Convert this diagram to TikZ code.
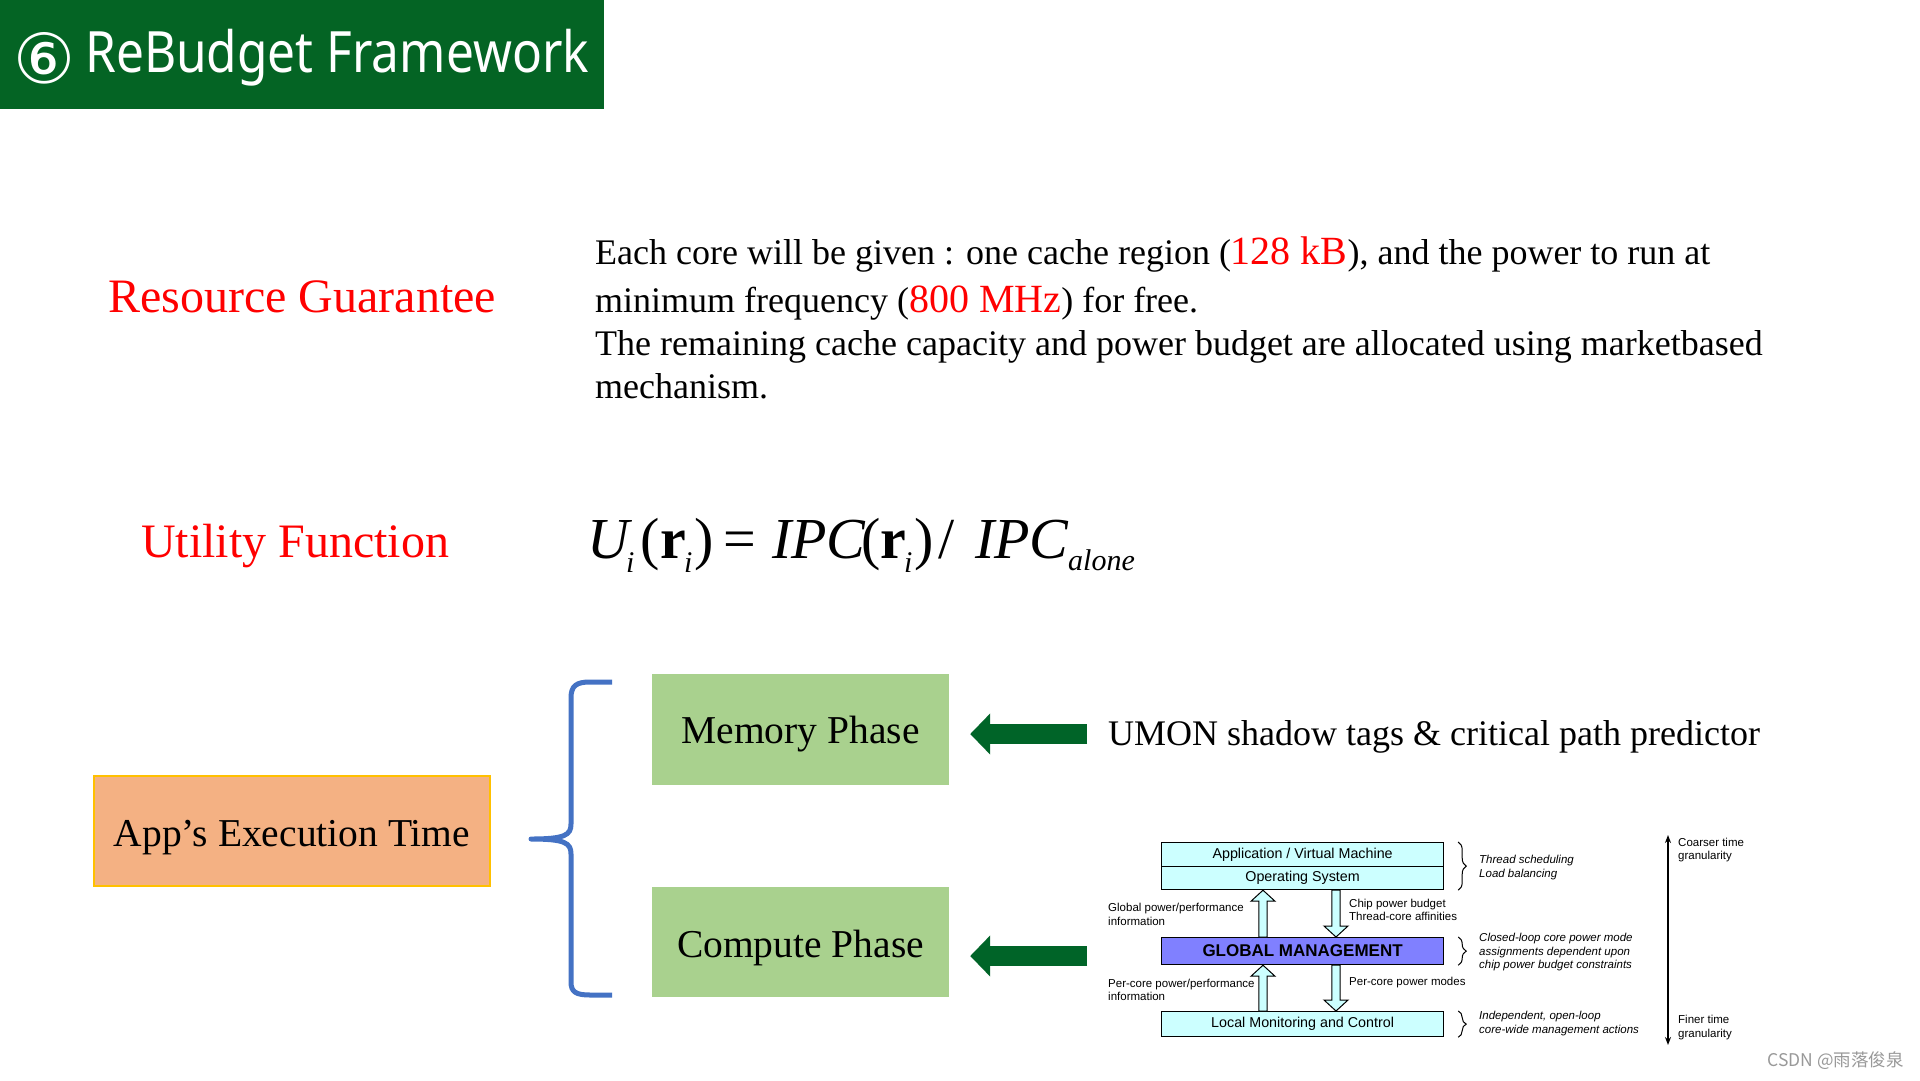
\documentclass[tikz,border=0pt]{standalone}
\usepackage{fontspec}
\setmainfont{Liberation Serif}
\newfontfamily\arialf{Liberation Sans}
\newfontfamily\titlef{Noto Sans}
\newfontfamily\dejavu{DejaVu Sans}
\newfontfamily\cjkf{Noto Sans CJK SC}
\usetikzlibrary{arrows.meta,decorations.pathreplacing,calc}
\definecolor{titlegreen}{RGB}{4,100,36}
\definecolor{arrgreen}{RGB}{0,100,40}
\definecolor{phasegreen}{RGB}{169,209,142}
\definecolor{apporange}{RGB}{244,177,131}
\definecolor{appborder}{RGB}{255,192,0}
\definecolor{braceblue}{RGB}{68,114,196}
\definecolor{lcyan}{RGB}{204,255,255}
\definecolor{gmblue}{RGB}{128,128,255}
\newcommand{\fs}[1]{\fontsize{#1}{#1}\selectfont}
\newcommand{\putat}[2]{\rlap{\hspace*{#1}#2}}
\newcommand{\blockarr}[2]{%
  \draw[barrow] let \p1=#1, \p2=#2, \n1={ifthenelse(\y2>\y1,1,-1)} in
    ({\x1-4.2pt},\y1) -- ({\x1-4.2pt},{\y2-(\n1)*11pt}) -- ({\x1-12pt},{\y2-(\n1)*11pt})
    -- (\x1,\y2) -- ({\x1+12pt},{\y2-(\n1)*11pt}) -- ({\x1+4.2pt},{\y2-(\n1)*11pt})
    -- ({\x1+4.2pt},\y1) -- cycle;}
\begin{document}
\begin{tikzpicture}[x=1pt,y=-1pt,
  redlbl/.style={anchor=base west, text=red, inner sep=0, font=\fs{48}},
  para/.style={anchor=base west, inner sep=0, font=\fs{36}},
  phase/.style={fill=phasegreen, minimum width=297, inner sep=0},
  phasetxt/.style={anchor=base, inner sep=0, font=\fs{39.5}},
  garrow/.style={draw=arrgreen, line width=20pt, -{Triangle[length=20pt,width=40pt]}},
  cbox/.style={draw=black, line width=1.2pt, fill=lcyan, minimum width=282, inner sep=0, font=\arialf\fs{14.3}},
  barrow/.style={draw=black, fill=lcyan, line width=1pt, line join=miter},
  lbl/.style={font=\arialf\fontsize{11.5}{13.5}\selectfont, align=left, inner sep=0, anchor=west},
  ilbl/.style={lbl, font=\arialf\itshape\fontsize{11.5}{13.5}\selectfont},
  bracedeco/.style={draw=black, line width=1pt, decorate, decoration={brace, amplitude=8pt}},
]
\useasboundingbox (0,0) rectangle (1920,1080);
\fill[white] (0,0) rectangle (1920,1080);

% title
\node[fill=titlegreen, minimum width=604, minimum height=109, anchor=north west, inner sep=0] (titlebar) at (0,0) {};
\node[anchor=center, text=white, inner sep=0] (six) at (44,58) {\resizebox{62pt}{!}{\dejavu ⑥}};
\node[anchor=base west, text=white, inner sep=0] (title) at (85,72) {\scalebox{0.87}[1]{\titlef\fs{57}ReBudget Framework}};

% resource guarantee
\node[redlbl] (rg) at (108,312) {Resource Guarantee};
\node[para] (p1) at (595,264) {Each core will be given : one cache region ({\color{red}\fs{40}128 kB}), and the power to run at};
\node[para] (p2) at (595,312) {minimum frequency ({\color{red}\fs{40}800 MHz}) for free.};
\node[para] (p3) at (595,355) {The remaining cache capacity and power budget are allocated using marketbased};
\node[para] (p4) at (595,398) {mechanism.};

% utility function
\node[redlbl] (uf) at (141,557) {Utility Function};
\node[anchor=base west, inner sep=0, font=\fs{58}] (formula) at (587,558) {%
\putat{0pt}{\textit{U}}%
\putat{39pt}{\raisebox{-14pt}{\fs{30}\textit{i}}}%
\putat{53pt}{(}%
\putat{73pt}{\textbf{r}}%
\putat{97pt}{\raisebox{-14pt}{\fs{30}\textit{i}}}%
\putat{107pt}{)}%
\putat{136pt}{=}%
\putat{185pt}{\textit{IPC}}%
\putat{274pt}{(}%
\putat{293pt}{\textbf{r}}%
\putat{317pt}{\raisebox{-14pt}{\fs{30}\textit{i}}}%
\putat{327pt}{)}%
\putat{351pt}{/}%
\putat{388pt}{\textit{IPC}}%
\putat{481pt}{\raisebox{-12pt}{\fs{30}\textit{alone}}}%
\hspace*{552pt}};

% app execution time
\node[draw=appborder, line width=2pt, fill=apporange, minimum width=396, minimum height=110, inner sep=0] (app) at (292,831) {};
\node[anchor=base, inner sep=0, font=\fs{39.5}] (apptext) at (292,846) {App’s Execution Time};

% brace
\coordinate (btip) at (531,839);
\draw[draw=braceblue, line width=5pt, line join=round, line cap=butt]
  (612,682) -- (590,682) .. controls (576,682) and (571,686) .. (571,698)
  -- (571,824) .. controls (571,835) and (565,839) .. (btip)
  .. controls (565,839) and (571,843) .. (571,854)
  -- (571,982) .. controls (571,992) and (576,995) .. (590,995) -- (612,995);

% phases
\node[phase, minimum height=111] (mem) at (800.5,729.5) {};
\node[phasetxt] (memtxt) at (800.5,743) {Memory Phase};
\node[phase, minimum height=110] (comp) at (800.5,942) {};
\node[phasetxt] (comptxt) at (800.5,957) {Compute Phase};

% green arrows
\coordinate (g1) at (1087,734);
\coordinate (g2) at (1087,956);
\draw[garrow, shorten >=21pt] (g1) -- (mem.east |- g1);
\draw[garrow, shorten >=21pt] (g2) -- (comp.east |- g2);
\node[anchor=base west, inner sep=0, font=\fs{36}] (umon) at (1108,745) {UMON shadow tags \& critical path predictor};

% bottom-right diagram
\node[cbox, minimum height=24, anchor=north west] (appvm) at (1161,842) {Application / Virtual Machine};
\node[cbox, minimum height=23, anchor=north west] (os) at (1161,866) {Operating System};
\node[cbox, fill=gmblue, minimum height=27, anchor=north west, font=\arialf\bfseries\fs{17}] (gm) at (1161,937) {GLOBAL MANAGEMENT};
\node[cbox, minimum height=25, anchor=north west] (local) at (1161,1011) {Local Monitoring and Control};

\coordinate (ax1) at (1263,900);
\coordinate (ax2) at (1336,900);
\blockarr{(gm.north -| ax1)}{(os.south -| ax1)}
\blockarr{(os.south -| ax2)}{(gm.north -| ax2)}
\blockarr{(local.north -| ax1)}{(gm.south -| ax1)}
\blockarr{(gm.south -| ax2)}{(local.north -| ax2)}

\node[lbl] (glob) at (1108,914.5) {Global power/performance\\information};
\node[lbl] (chip) at (1349,910) {Chip power budget\\Thread-core affinities};
\node[lbl] (perc) at (1108,990) {Per-core power/performance\\information};
\node[lbl] (perm) at (1349,983) {Per-core power modes};

\draw[bracedeco] ([xshift=14pt]appvm.north east) -- ([xshift=14pt]os.south east);
\draw[bracedeco] ([xshift=14pt]gm.north east) -- ([xshift=14pt]gm.south east);
\draw[bracedeco] ([xshift=14pt]local.north east) -- ([xshift=14pt]local.south east);

\node[ilbl] (ts) at (1479,867.5) {Thread scheduling\\Load balancing};
\node[ilbl] (cl) at (1479,952.5) {Closed-loop core power mode\\assignments dependent upon\\chip power budget constraints};
\node[ilbl] (ind) at (1479,1023.5) {Independent, open-loop\\core-wide management actions};

\coordinate (gtop) at (1668,835);
\coordinate (gbot) at (1668,1045);
\draw[line width=1.5pt, {Stealth[length=8pt,width=6pt]}-{Stealth[length=8pt,width=6pt]}] (gtop) -- (gbot);
\node[lbl] (coarse) at (1678,850) {Coarser time\\granularity};
\node[lbl] (fine) at (1678,1027.5) {Finer time\\granularity};

% watermark
\node[anchor=east, inner sep=0, text=black!40, font=\cjkf\fs{17.5}] (wm) at (1904,1061) {CSDN @雨落俊泉};
\end{tikzpicture}
\end{document}
